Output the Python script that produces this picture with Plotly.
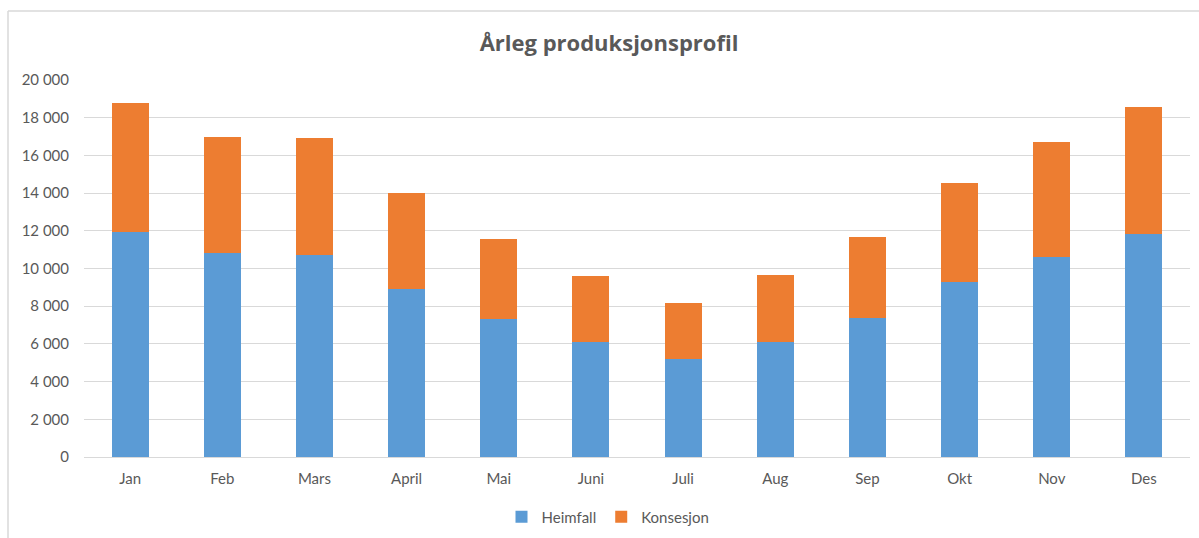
import plotly.graph_objects as go

months = ["Jan", "Feb", "Mars", "April", "Mai", "Juni", "Juli", "Aug", "Sep", "Okt", "Nov", "Des"]
heimfall = [11950, 10800, 10700, 8900, 7330, 6100, 5200, 6100, 7400, 9300, 10600, 11850]
konsesjon = [6850, 6200, 6200, 5100, 4220, 3500, 2950, 3550, 4250, 5250, 6100, 6700]
ytick_vals = [0, 2000, 4000, 6000, 8000, 10000, 12000, 14000, 16000, 18000, 20000]
ytick_text = ["0", "2 000", "4 000", "6 000", "8 000", "10 000", "12 000", "14 000", "16 000", "18 000", "20 000"]

FONT = "Lato"
GREY = "#595959"

fig = go.Figure()
fig.add_trace(go.Bar(name="Heimfall", x=months, y=heimfall, marker=dict(color="#5b9bd5", line=dict(width=0))))
fig.add_trace(go.Bar(name="Konsesjon", x=months, y=konsesjon, marker=dict(color="#ed7d31", line=dict(width=0))))

W, H = 1199, 538
l, r, t, b = 84, 9, 80, 81
pw, ph = W - l - r, H - t - b

def px_x(x):
    return (x - l) / pw

def px_y(y):
    return 1 - (y - t) / ph

fig.update_layout(
    barmode="stack",
    bargap=0.6,
    width=W, height=H,
    margin=dict(l=l, r=r, t=t, b=b, autoexpand=False),
    paper_bgcolor="white",
    plot_bgcolor="white",
    font=dict(family=FONT, size=15, color=GREY),
    title=dict(text="<b>Årleg produksjonsprofil</b>", x=609 / W, xref="container", xanchor="center",
               y=1 - 43 / H, yref="container", yanchor="middle",
               font=dict(family="Open Sans", size=22, color=GREY)),
    xaxis=dict(showgrid=False, showline=True, linecolor="#d9d9d9", linewidth=1, automargin=False,
               tickfont=dict(family=FONT, size=15, color=GREY), ticks="", ticklabelstandoff=8),
    yaxis=dict(range=[0, 20000], tickvals=ytick_vals, ticktext=ytick_text, automargin=False,
               showgrid=True, gridcolor="#d9d9d9", gridwidth=1, zeroline=False,
               tickfont=dict(family=FONT, size=15, color=GREY), ticks="", ticklabelstandoff=14),
    legend=dict(orientation="h", x=608 / W, xref="container", xanchor="center",
                y=1 - 517 / H, yref="container", yanchor="middle",
                font=dict(family=FONT, size=15, color=GREY), itemwidth=30, traceorder="normal"),
    showlegend=True,
)

fig.add_shape(type="line", xref="paper", yref="paper", x0=px_x(8), x1=px_x(8), y0=px_y(11), y1=px_y(540),
              line=dict(color="#d9d9d9", width=1.5))
fig.add_shape(type="line", xref="paper", yref="paper", x0=px_x(8), x1=px_x(1205), y0=px_y(11), y1=px_y(11),
              line=dict(color="#d9d9d9", width=1.5))

fig.write_html("out.html", config={"displayModeBar": False},
               post_script="document.body.style.margin='0';document.body.style.overflow='hidden';")
